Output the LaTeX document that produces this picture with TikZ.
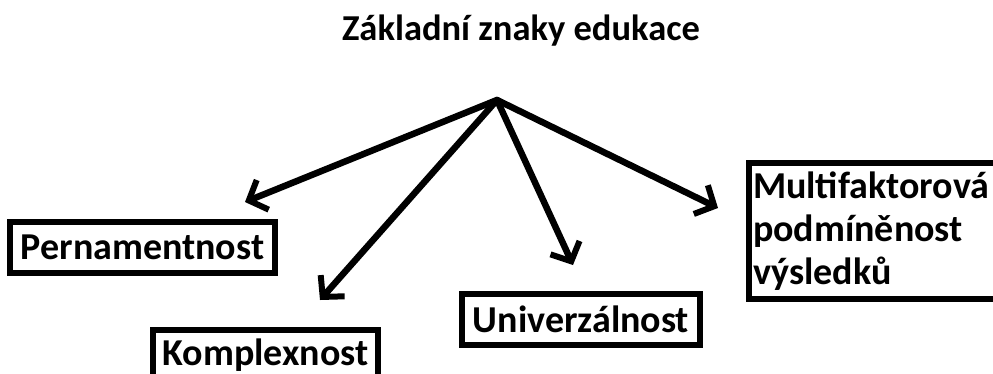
\documentclass[tikz,border=0pt]{standalone}
\usepackage{fontspec}
\setmainfont{Carlito}
\usetikzlibrary{arrows.meta}

\begin{document}
\begin{tikzpicture}[x=1pt, y=-1pt, >={Straight Barb[length=15pt, width=32pt, line width=6pt]},
  label/.style={font=\bfseries\fontsize{38}{43}\selectfont},
  box/.style={label, draw, line width=6pt, inner sep=0pt, minimum height=51pt},
  link/.style={->, line width=6.5pt, line cap=round}]
  % Fixed frame of the picture
  \useasboundingbox (0,0) rectangle (993,373);
  % Title and apex of the arrows
  \node[label, font=\bfseries\fontsize{36.5}{43}\selectfont, anchor=base] (title) at (521,40)
    {Základní znaky edukace};
  \coordinate (apex) at (497,100);
  % Boxes with the signs
  \node[box, minimum width=265pt] (perm) at (142.5,247.5) {Pernamentnost};
  \node[box, minimum width=225pt] (kompl) at (265.5,355) {Komplexnost};
  \node[box, minimum width=238pt] (univ) at (581,319) {Univerzálnost};
  \node[box, anchor=north west, align=left, text width=250pt, inner xsep=4pt,
    inner ysep=0pt, minimum height=136pt] (multi) at (746,160)
    {Multifaktorová\\podmíněnost\\výsledků};
  % Arrow tips
  \coordinate (tipPerm) at (245,202);
  \coordinate (tipKompl) at (320,300);
  \coordinate (tipUniv) at (573,265);
  \coordinate (tipMulti) at (718,208);
  % Arrows from the apex
  \foreach \t in {tipPerm, tipKompl, tipUniv, tipMulti} {
    \draw[link] (apex) -- (\t);
  }
\end{tikzpicture}
\end{document}
